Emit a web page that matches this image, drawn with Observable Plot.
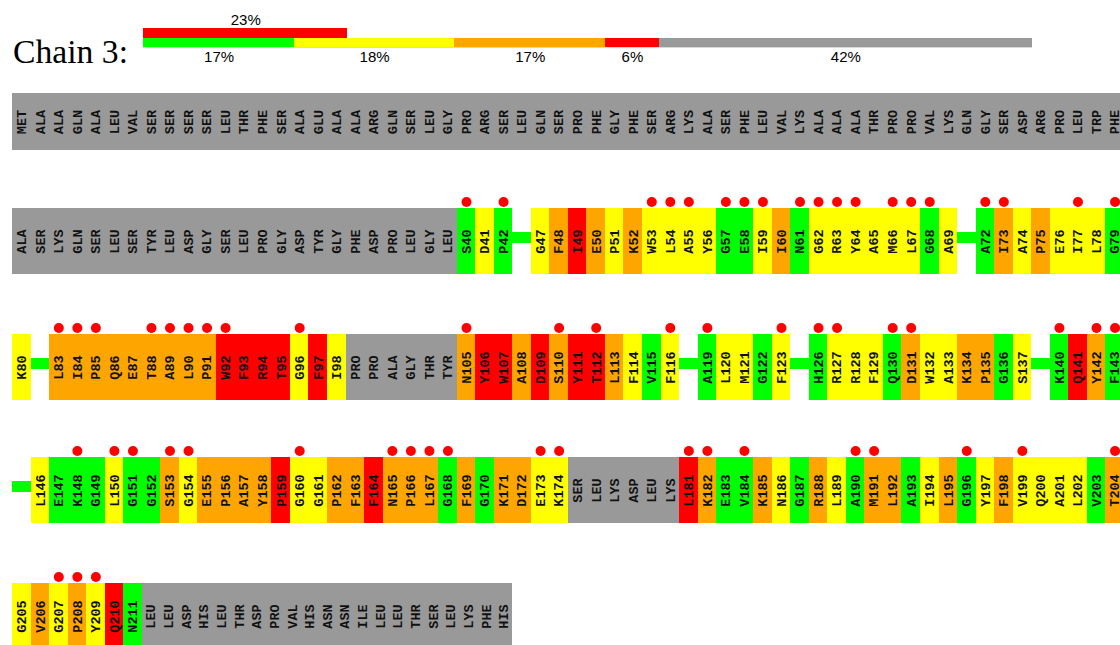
<!DOCTYPE html>
<html><head><meta charset="utf-8">
<script src="https://cdn.jsdelivr.net/npm/d3@7"></script>
<script src="https://cdn.jsdelivr.net/npm/@observablehq/plot@0.6"></script>
<style>
body{margin:0;background:#fff}
#wrap{position:relative;width:1120px;height:645px;overflow:hidden;background:#fff}
#wrap svg{position:absolute;left:0;top:0;overflow:hidden}
</style>
</head><body><div id="wrap"></div>
<script>
// ---------- data ----------
const chainTitle = "Chain 3:";
const summaryClasses = ["good", "one outlier", "two outliers", "three+ outliers", "unmodelled"];
const summaryPercents = [17, 18, 17, 6, 42];
const disorderPercent = 23;

const row1Labels = ["MET","ALA","ALA","GLN","ALA","LEU","VAL","SER","SER","SER","SER","LEU","THR","PHE","SER","ALA","GLU","ALA","ALA","ARG","GLN","SER","LEU","GLY","PRO","ARG","SER","LEU","GLN","SER","PRO","PHE","GLY","PHE","SER","ARG","LYS","ALA","SER","PHE","LEU","VAL","LYS","ALA","ALA","ALA","THR","PRO","PRO","VAL","LYS","GLN","GLY","SER","ASP","ARG","PRO","LEU","TRP","PHE"];
const row1Quality = "uuuuuuuuuuuuuuuuuuuuuuuuuuuuuuuuuuuuuuuuuuuuuuuuuuuuuuuuuuuu";
const row1Outliers = [];

const row2Labels = ["ALA","SER","LYS","GLN","SER","LEU","SER","TYR","LEU","ASP","GLY","SER","LEU","PRO","GLY","ASP","TYR","GLY","PHE","ASP","PRO","LEU","GLY","LEU","S40","D41","P42","","G47","F48","I49","E50","P51","K52","W53","L54","A55","Y56","G57","E58","I59","I60","N61","G62","R63","Y64","A65","M66","L67","G68","A69","","A72","I73","A74","P75","E76","I77","L78","G79"];
const row2Quality = "uuuuuuuuuuuuuuuuuuuuuuuu" + "gyg" + "-" + "yoroyoyyyyggyogyyyyyygy" + "-" + "goyoyyyg";
const row2Outliers = ["S40","P42","W53","L54","A55","G57","E58","I59","N61","G62","R63","Y64","M66","L67","G68","A72","I73","I77","G79"];

const row3Labels = ["K80","","L83","I84","P85","Q86","E87","T88","A89","L90","P91","W92","F93","R94","T95","G96","F97","I98","PRO","PRO","ALA","GLY","THR","TYR","N105","Y106","W107","A108","D109","S110","Y111","T112","L113","F114","V115","F116","","A119","L120","M121","G122","F123","","H126","R127","R128","F129","Q130","D131","W132","A133","K134","P135","G136","S137","","K140","Q141","Y142","F143"];
const row3Quality = "y" + "-" + "ooooooooo" + "rrrr" + "yry" + "uuuuuu" + "orrororroygy" + "-" + "gyygy" + "-" + "gyyygoyyoogy" + "-" + "grog";
const row3Outliers = ["L83","I84","P85","T88","A89","L90","P91","W92","G96","N105","S110","T112","F116","A119","F123","H126","R127","Q130","D131","K140","Y142","F143"];

const row4Labels = ["","L146","E147","K148","G149","L150","G151","G152","S153","G154","E155","P156","A157","Y158","P159","G160","G161","P162","F163","F164","N165","P166","L167","G168","F169","G170","K171","D172","E173","K174","SER","LEU","LYS","ASP","LEU","LYS","L181","K182","E183","V184","K185","N186","G187","R188","L189","A190","M191","L192","A193","I194","L195","G196","Y197","F198","V199","Q200","A201","L202","V203","T204"];
const row4Quality = "-" + "ygggyggoyooooryyoorooogogooyy" + "uuuuuu" + "roggoygoygoogyogyoyyyygo";
const row4Outliers = ["K148","L150","G151","S153","G154","G160","N165","P166","L167","G168","E173","K174","L181","K182","V184","A190","M191","G196","V199","T204"];

const row5Labels = ["G205","V206","G207","P208","Y209","Q210","N211","LEU","LEU","ASP","HIS","LEU","THR","ASP","PRO","VAL","HIS","ASN","ASN","ILE","LEU","LEU","THR","SER","LEU","LYS","PHE","HIS"];
const row5Quality = "yoyoyrg" + "uuuuuuuuuuuuuuuuuuuuu";
const row5Outliers = ["G207","P208","Y209"];
const row5TailCells = 20; // width (in residue cells) of the final unmodelled run

// ---------- layout / style ----------
const X0 = 12, CELL = 18.53, NCOL = 60;
const ROW_TOP = [93, 208, 334, 457, 583];
const ROW_H = [57, 66, 66, 66, 66];
const colorOf = {g: "#00ff00", y: "#ffff00", o: "#ffa500", r: "#ff0000", u: "#999999"};
const summaryColors = ["#00ff00", "#ffff00", "#ffa500", "#ff0000", "#999999"];

const rows = [
  {labels: row1Labels, quality: row1Quality, outliers: row1Outliers},
  {labels: row2Labels, quality: row2Quality, outliers: row2Outliers},
  {labels: row3Labels, quality: row3Quality, outliers: row3Outliers},
  {labels: row4Labels, quality: row4Quality, outliers: row4Outliers},
  {labels: row5Labels, quality: row5Quality, outliers: row5Outliers}
];

const cells = [], texts = [], links = [], dots = [];
rows.forEach((row, r) => {
  const top = ROW_TOP[r], h = ROW_H[r], cy = top + h / 2;
  const q = row.quality;
  let i = 0;
  while (i < q.length) {
    const code = q[i];
    if (code === "-") {
      links.push({x1: i, x2: i + 1, y1: top + 24, y2: top + 35});
      i++; continue;
    }
    if (code === "u") {
      let j = i; while (j < q.length && q[j] === "u") j++;
      const n = j - i;
      const span = (r === 4 && j === q.length) ? row5TailCells : n;
      cells.push({x1: i, x2: i + span, y1: top, y2: top + h, fill: colorOf.u});
      for (let k = 0; k < n; k++) texts.push({x: i + (k + 0.5) * span / n, y: cy, text: row.labels[i + k]});
      i = j; continue;
    }
    cells.push({x1: i, x2: i + 1, y1: top, y2: top + h, fill: colorOf[code]});
    texts.push({x: i + 0.5, y: cy, text: row.labels[i]});
    if (row.outliers.includes(row.labels[i])) dots.push({x: i + 0.5, y: top - 6.5});
    i++;
  }
});

const wrap = document.getElementById("wrap");

// main residue plot
const main = Plot.plot({
  width: 1120, height: 645,
  margin: 0,
  style: {background: "transparent"},
  x: {type: "linear", domain: [0, NCOL], range: [X0, X0 + NCOL * CELL], axis: null},
  y: {type: "identity", axis: null},
  color: {type: "identity"},
  marks: [
    Plot.rect(links, {x1: "x1", x2: "x2", y1: "y1", y2: "y2", fill: "#00ff00", shapeRendering: "crispEdges"}),
    Plot.rect(cells, {x1: "x1", x2: "x2", y1: "y1", y2: "y2", fill: "fill", shapeRendering: "crispEdges"}),
    Plot.text(texts, {x: "x", y: "y", text: "text", rotate: -90, fontFamily: "Liberation Mono", fontSize: 13.5, fontWeight: "bold", fill: "#111"}),
    Plot.dot(dots, {x: "x", y: "y", r: 5, fill: "#ff0000"})
  ]
});
wrap.appendChild(main);

// summary legend
let acc = 0;
const summary = summaryPercents.map((p, i) => {
  const d = {cls: summaryClasses[i], x1: acc, x2: acc + p, fill: summaryColors[i], label: p + "%"};
  acc += p; return d;
});
const disorder = [{x1: 0, x2: disorderPercent, label: disorderPercent + "%"}];

const legend = Plot.plot({
  width: 1120, height: 80,
  margin: 0,
  style: {background: "transparent"},
  x: {type: "linear", domain: [0, 100], range: [143, 1032], axis: null},
  y: {type: "identity", axis: null},
  color: {type: "identity"},
  marks: [
    Plot.rect(disorder, {x1: "x1", x2: "x2", y1: 28, y2: 38, fill: "#ff0000", shapeRendering: "crispEdges"}),
    Plot.rect(summary, {x1: "x1", x2: "x2", y1: 38, y2: 47, fill: "fill", shapeRendering: "crispEdges"}),
    Plot.rect([{x1: 0, x2: 100}], {x1: "x1", x2: "x2", y1: 47, y2: 48, fill: "#d8d8d8", shapeRendering: "crispEdges"}),
    Plot.text(disorder, {x: d => (d.x1 + d.x2) / 2, y: 19.5, text: "label", fontFamily: "Liberation Sans", fontSize: 15, fill: "black"}),
    Plot.text(summary, {x: d => (d.x1 + d.x2) / 2, y: 56.5, text: "label", fontFamily: "Liberation Sans", fontSize: 15, fill: "black"})
  ]
});
d3.select(legend).append("text")
  .attr("x", 13).attr("y", 63)
  .attr("text-anchor", "start")
  .attr("font-family", "Liberation Serif")
  .attr("font-size", 34)
  .attr("textLength", 115)
  .attr("lengthAdjust", "spacingAndGlyphs")
  .attr("fill", "black")
  .text(chainTitle);
wrap.appendChild(legend);
</script>
</body></html>
